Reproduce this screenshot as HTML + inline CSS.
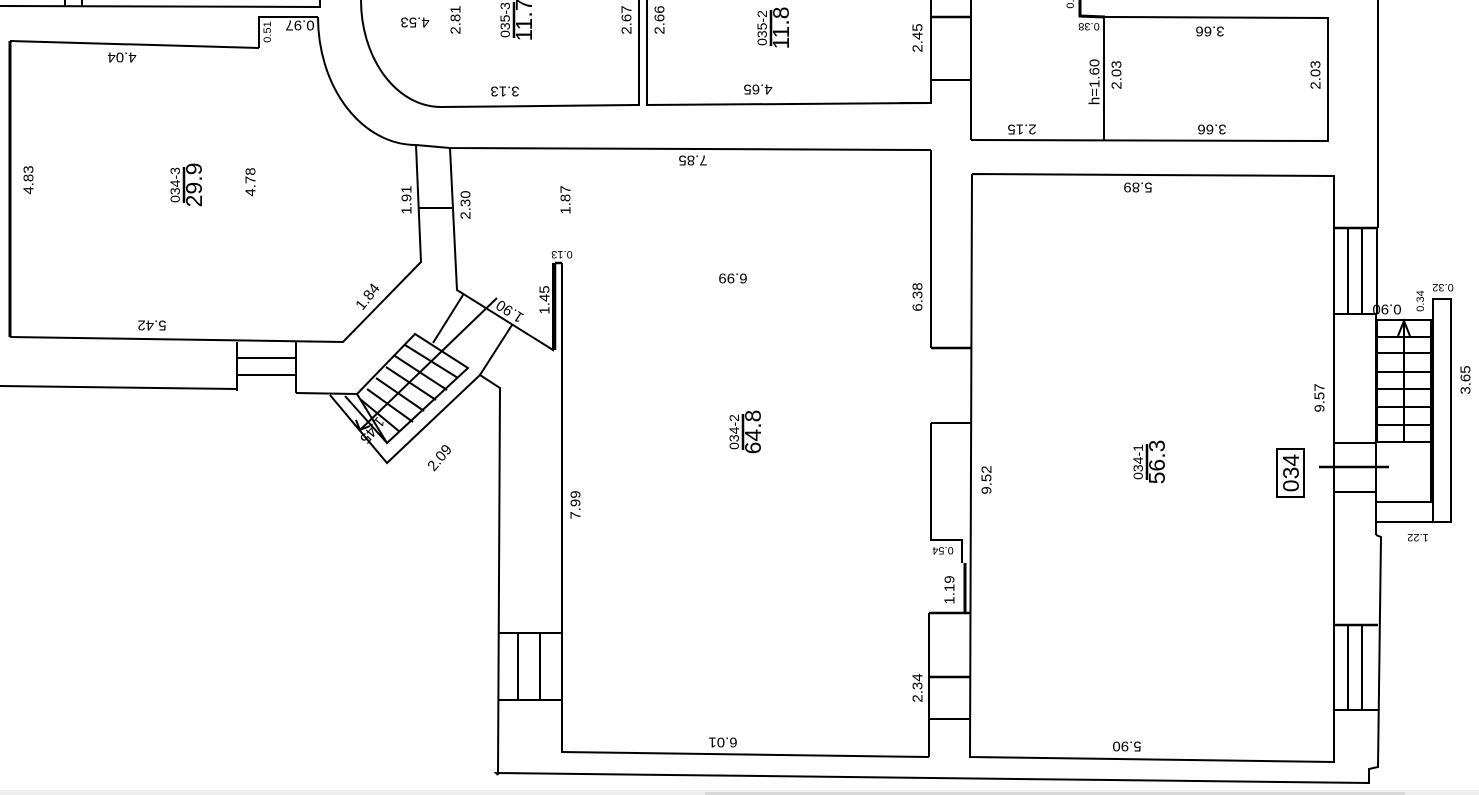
<!DOCTYPE html>
<html><head><meta charset="utf-8"><style>
html,body{margin:0;padding:0;background:#fff;}
svg{display:block;}
text{font-family:"Liberation Sans",Arial,sans-serif;fill:#000;}
.d{font-size:15px;}
.s{font-size:11px;}
.f{font-size:23px;}
.n{font-size:14px;}
</style></head><body>
<svg width="1479" height="795" viewBox="0 0 1479 795" xmlns="http://www.w3.org/2000/svg">
<rect x="0" y="0" width="1479" height="795" fill="#fff"/>
<rect x="0" y="790" width="1479" height="5" fill="#eeeeee"/>
<rect x="705" y="792" width="700" height="3" fill="#d8d8d8"/>
<g fill="none" stroke="#000" stroke-width="2">
<polyline points="0,6 320,7 320,0"/>
<line x1="65" y1="0" x2="65" y2="6"/><line x1="82" y1="0" x2="82" y2="6"/>
<polyline points="259,48 259,17 318,17"/>
<line x1="10" y1="41" x2="259" y2="48"/>
<line x1="10" y1="41" x2="10" y2="337" stroke-width="3"/>
<polyline points="10,337 343,342 421,262 416,145"/>
<path d="M318,17 A98,128 0 0 0 416,145 L450,148 L931,150"/>
<line x1="419" y1="208" x2="452" y2="208"/>
<polyline points="450,148 457,290 553,350 553,263"/>
<line x1="555" y1="263" x2="562" y2="263" stroke-width="2.5"/>
<line x1="555" y1="263" x2="555" y2="350" stroke-width="2.5"/>
<line x1="562" y1="263" x2="562" y2="752" stroke-width="2"/>
<polyline points="0,386 237,389"/>
<line x1="237" y1="342" x2="237" y2="391"/>
<line x1="296" y1="342" x2="296" y2="393"/>
<line x1="237" y1="358" x2="296" y2="358"/>
<line x1="237" y1="375" x2="296" y2="375"/>
<polyline points="296,393 357,394"/>
<polygon points="415,334 468,368 387,443 357,394"/>
<polyline points="330,395 387,463 480,375 500,388 498,775"/>
<line x1="345" y1="396" x2="387" y2="443"/>
<line x1="463" y1="295" x2="433" y2="343"/>
<line x1="512" y1="325" x2="480" y2="375"/>
<line x1="497" y1="298" x2="360" y2="430"/>
<polyline points="356,420 360,430 370,426"/>
<line x1="405" y1="345" x2="458" y2="378"/>
<line x1="395" y1="356" x2="447" y2="390"/>
<line x1="386" y1="367" x2="436" y2="400"/>
<line x1="376" y1="378" x2="424" y2="411"/>
<line x1="367" y1="389" x2="413" y2="422"/>
<line x1="360" y1="399" x2="400" y2="432"/>
<path d="M361,0 A80,107 0 0 0 441,107 L639,105 L639,0"/>
<polyline points="647,0 647,105 931,103 931,0"/>
<line x1="931" y1="17" x2="971" y2="17" stroke-width="2.5"/>
<line x1="931" y1="80" x2="971" y2="80" stroke-width="2"/>
<line x1="900" y1="103" x2="931" y2="103"/>
<line x1="971" y1="0" x2="971" y2="140"/>
<polyline points="1080,0 1080,16 1105,17" stroke-width="3"/>
<polyline points="1105,17 1328,18 1328,141 971,140"/>
<line x1="1104" y1="18" x2="1104" y2="140"/>
<line x1="1378" y1="0" x2="1378" y2="228"/>
<polyline points="931,150 931,348"/>
<line x1="931" y1="348" x2="971" y2="348" stroke-width="2.5"/>
<line x1="931" y1="423" x2="971" y2="423"/>
<polyline points="931,423 931,540 962,540 962,563"/>
<line x1="965" y1="563" x2="965" y2="613" stroke-width="3"/>
<line x1="929" y1="613" x2="970" y2="613" stroke-width="2.5"/>
<line x1="929" y1="613" x2="929" y2="757"/>
<line x1="929" y1="677" x2="970" y2="677" stroke-width="2.5"/>
<line x1="929" y1="719" x2="970" y2="719"/>
<line x1="561" y1="752" x2="929" y2="757"/>
<line x1="498" y1="633" x2="561" y2="633" stroke-width="2"/>
<line x1="498" y1="700" x2="561" y2="700" stroke-width="2"/>
<line x1="518" y1="633" x2="518" y2="700"/>
<line x1="540" y1="633" x2="540" y2="700"/>
<polyline points="972,174 1334,176 1334,762 970,757 972,174"/>
<line x1="1334" y1="228" x2="1378" y2="228" stroke-width="2.5"/>
<line x1="1348" y1="228" x2="1348" y2="314"/>
<line x1="1362" y1="228" x2="1362" y2="314"/>
<line x1="1377" y1="228" x2="1377" y2="314"/>
<line x1="1334" y1="314" x2="1377" y2="314"/>
<line x1="1376" y1="314" x2="1376" y2="535"/>
<polyline points="1376,535 1381,537 1378,767 1369,769 1369,783 496,773 498,775"/>
<rect x="1377" y="320" width="54" height="122"/>
<line x1="1377" y1="337" x2="1431" y2="337"/>
<line x1="1377" y1="353" x2="1431" y2="353"/>
<line x1="1377" y1="372" x2="1431" y2="372"/>
<line x1="1377" y1="389" x2="1431" y2="389"/>
<line x1="1377" y1="407" x2="1431" y2="407"/>
<line x1="1377" y1="425" x2="1431" y2="425"/>
<line x1="1404" y1="322" x2="1404" y2="442"/>
<polyline points="1398,336 1404,321 1410,336"/>
<polyline points="1431,442 1431,502 1376,502"/>
<polyline points="1433,522 1433,299 1451,299 1451,522 1376,522"/>
<rect x="1334" y="443" width="42" height="49"/>
<line x1="1319" y1="467" x2="1389" y2="467" stroke-width="2.5"/>
<rect x="1277" y="449" width="27" height="48"/>
<line x1="1334" y1="625" x2="1378" y2="625" stroke-width="2.5"/>
<line x1="1334" y1="710" x2="1378" y2="710"/>
<line x1="1348" y1="625" x2="1348" y2="710"/>
<line x1="1362" y1="625" x2="1362" y2="710"/>
</g>
<g class="d" text-anchor="middle" dominant-baseline="central">
<text transform="translate(122,57) rotate(180)">4.04</text>
<text class="s" transform="translate(268,32) rotate(-90)">0.51</text>
<text transform="translate(300,25) rotate(180)">0.97</text>
<text transform="translate(29,180) rotate(-90)">4.83</text>
<text transform="translate(251,182) rotate(-90)">4.78</text>
<text transform="translate(407,200) rotate(-90)">1.91</text>
<text transform="translate(466,205) rotate(-90)">2.30</text>
<text transform="translate(566,200) rotate(-90)">1.87</text>
<text transform="translate(368,297) rotate(-52)">1.84</text>
<text transform="translate(152,325) rotate(180)">5.42</text>
<text transform="translate(510,311) rotate(213)">1.90</text>
<text transform="translate(545,300) rotate(-90)">1.45</text>
<text class="s" transform="translate(562,254) rotate(180)">0.13</text>
<text transform="translate(440,458) rotate(-50)">2.09</text>
<text transform="translate(372,430) rotate(130)">1.45</text>
<text transform="translate(576,505) rotate(-90)">7.99</text>
<text transform="translate(733,278) rotate(180)">6.99</text>
<text transform="translate(693,160) rotate(180)">7.85</text>
<text transform="translate(918,297) rotate(-90)">6.38</text>
<text transform="translate(987,480) rotate(-90)">9.52</text>
<text class="s" transform="translate(943,550) rotate(180)">0.54</text>
<text transform="translate(950,590) rotate(-90)">1.19</text>
<text transform="translate(918,688) rotate(-90)">2.34</text>
<text transform="translate(723,742) rotate(180)">6.01</text>
<text transform="translate(1127,746) rotate(180)">5.90</text>
<text transform="translate(1138,187) rotate(180)">5.89</text>
<text transform="translate(1320,398) rotate(-90)">9.57</text>
<text transform="translate(1466,380) rotate(-90)">3.65</text>
<text transform="translate(1387,309) rotate(180)">0.90</text>
<text class="s" transform="translate(1421,301) rotate(-90)">0.34</text>
<text class="s" transform="translate(1443,287) rotate(180)">0.32</text>
<text class="s" transform="translate(1418,537) rotate(180)">1.22</text>
<text transform="translate(415,22) rotate(180)">4.53</text>
<text transform="translate(456,20) rotate(-90)">2.81</text>
<text transform="translate(505,91) rotate(180)">3.13</text>
<text transform="translate(627,20) rotate(-90)">2.67</text>
<text transform="translate(660,20) rotate(-90)">2.66</text>
<text transform="translate(758,89) rotate(180)">4.65</text>
<text transform="translate(918,38) rotate(-90)">2.45</text>
<text class="s" transform="translate(1089,26) rotate(180)">0.38</text>
<text class="s" transform="translate(1071,4) rotate(-90)">0.</text>
<text transform="translate(1210,31) rotate(180)">3.66</text>
<text transform="translate(1212,129) rotate(180)">3.66</text>
<text transform="translate(1117,75) rotate(-90)">2.03</text>
<text transform="translate(1316,75) rotate(-90)">2.03</text>
<text transform="translate(1095,82) rotate(-90)">h=1.60</text>
<text transform="translate(1022,129) rotate(180)">2.15</text>
<text class="f" transform="translate(1291,473) rotate(-90)">034</text>
</g>
<g text-anchor="middle">
<g transform="translate(183,185) rotate(-90)"><text class="n" y="-3">034-3</text><line x1="-18" y1="1" x2="18" y2="1" stroke="#000" stroke-width="2.5"/><text class="f" y="19">29.9</text></g>
<g transform="translate(513,20) rotate(-90)"><text class="n" y="-3">035-3</text><line x1="-18" y1="1" x2="18" y2="1" stroke="#000" stroke-width="2.5"/><text class="f" y="19">11.7</text></g>
<g transform="translate(770,28) rotate(-90)"><text class="n" y="-3">035-2</text><line x1="-18" y1="1" x2="18" y2="1" stroke="#000" stroke-width="2.5"/><text class="f" y="19">11.8</text></g>
<g transform="translate(742,432) rotate(-90)"><text class="n" y="-3">034-2</text><line x1="-18" y1="1" x2="18" y2="1" stroke="#000" stroke-width="2.5"/><text class="f" y="19">64.8</text></g>
<g transform="translate(1146,462) rotate(-90)"><text class="n" y="-3">034-1</text><line x1="-18" y1="1" x2="18" y2="1" stroke="#000" stroke-width="2.5"/><text class="f" y="19">56.3</text></g>
</g>
</svg>
</body></html>
